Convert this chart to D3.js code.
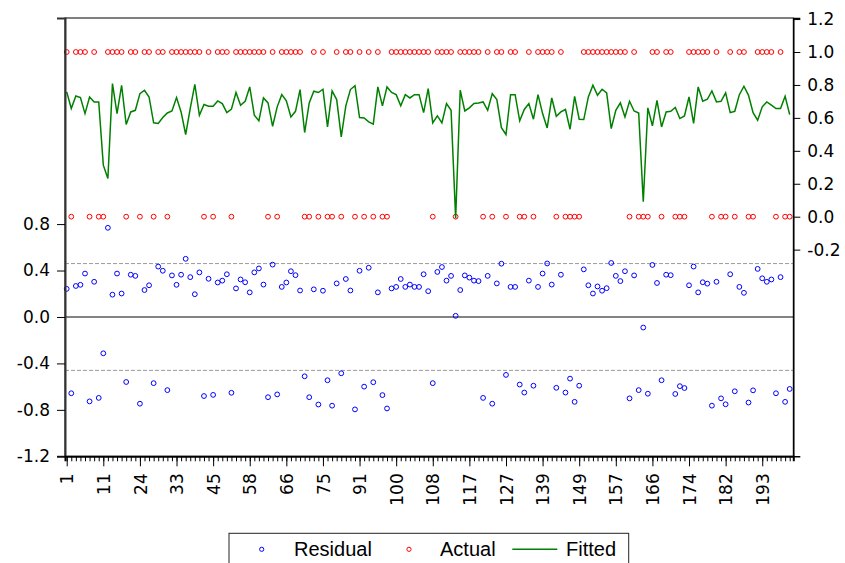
<!DOCTYPE html>
<html>
<head>
<meta charset="utf-8">
<script src="https://cdn.jsdelivr.net/npm/d3@7"></script>
<style>
  html, body { margin: 0; padding: 0; background: #fff; }
  svg { display: block; }
</style>
</head>
<body>
<svg id="chart" width="845" height="563"></svg>
<script>
// Fitted probabilities, one per observation (right axis)
const fitted = [
  0.758, 0.657, 0.733, 0.723, 0.626, 0.727, 0.697, 0.697, 0.313, 0.232,
  0.808, 0.626, 0.798, 0.560, 0.636, 0.646, 0.747, 0.768, 0.727, 0.570,
  0.566, 0.602, 0.630, 0.642, 0.723, 0.636, 0.499, 0.657, 0.804, 0.616,
  0.681, 0.671, 0.671, 0.703, 0.687, 0.632, 0.653, 0.754, 0.677, 0.701,
  0.788, 0.616, 0.582, 0.721, 0.691, 0.549, 0.667, 0.741, 0.703, 0.606,
  0.640, 0.772, 0.511, 0.691, 0.762, 0.754, 0.774, 0.545, 0.764, 0.711,
  0.485, 0.673, 0.772, 0.796, 0.602, 0.600, 0.576, 0.562, 0.788, 0.673,
  0.788, 0.754, 0.741, 0.673, 0.741, 0.721, 0.741, 0.741, 0.632, 0.778,
  0.570, 0.612, 0.570, 0.687, 0.646, -0.010, 0.768, 0.642, 0.661, 0.687,
  0.691, 0.697, 0.646, 0.747, 0.711, 0.541, 0.499, 0.741, 0.741, 0.582,
  0.651, 0.687, 0.592, 0.741, 0.626, 0.539, 0.721, 0.610, 0.636, 0.651,
  0.531, 0.731, 0.592, 0.590, 0.727, 0.798, 0.737, 0.774, 0.752, 0.535,
  0.646, 0.691, 0.606, 0.701, 0.642, 0.630, 0.091, 0.661, 0.552, 0.707,
  0.545, 0.636, 0.640, 0.663, 0.596, 0.612, 0.727, 0.566, 0.788, 0.701,
  0.713, 0.764, 0.697, 0.701, 0.752, 0.632, 0.640, 0.741, 0.792, 0.737,
  0.632, 0.586, 0.667, 0.697, 0.677, 0.657, 0.657, 0.731, 0.620
];

// Observed binary outcome (right axis)
const actual = [
  1,0,1,1,1,0,1,0,0,1,
  1,1,1,0,1,1,0,1,1,0,
  1,1,0,1,1,1,1,1,1,1,
  0,1,0,1,1,1,0,1,1,1,
  1,1,1,1,0,1,0,1,1,1,
  1,1,0,0,1,0,1,0,0,1,
  0,1,1,0,1,0,1,0,1,0,
  0,1,1,1,1,1,1,1,1,1,
  0,1,1,1,1,0,1,1,1,1,
  1,0,1,0,1,1,0,1,1,0,
  0,1,0,1,1,1,1,0,1,0,
  0,0,0,1,1,1,1,1,1,1,
  1,1,1,0,1,0,0,0,1,1,
  0,1,1,0,0,0,1,1,1,1,
  1,0,1,0,0,1,0,1,1,0,
  0,1,1,1,1,0,1,0,0
];

// Observation labels shown on the x axis (every 8th observation)
const tickLabels = ["1","11","24","33","45","58","66","75","91","100",
                    "108","117","127","139","149","157","166","174","182","193"];
const tickEvery = 8;

// Axis tick values
const residTicks = [-1.2, -0.8, -0.4, 0.0, 0.4, 0.8];
const afTicks = [-0.2, 0.0, 0.2, 0.4, 0.6, 0.8, 1.0, 1.2];

// Standard error band drawn around the zero residual line
const seBand = 0.46;

const seriesNames = ["Residual", "Actual", "Fitted"];
const seriesColors = ["#0000ff", "#ff0000", "#008000"];

// Residual = actual - fitted
const residual = actual.map((a, i) => a - fitted[i]);
const N = fitted.length;

const plot = { left: 65, right: 793.3, top: 18, bottom: 456.3 };
const svg = d3.select("#chart");
const numFont = "'DejaVu Sans', Verdana, sans-serif";
const textFont = "'Liberation Sans', Arial, Helvetica, sans-serif";
const markerR = 2.4;

const x = d3.scalePoint()
  .domain(d3.range(N))
  .range([plot.left, plot.right])
  .padding(0.58)
  .align(0.32);

const yRes = d3.scaleLinear().domain([-1.2, 2.575]).range([plot.bottom, plot.top]);
const yAF = d3.scaleLinear().domain([-1.455, 1.2065]).range([plot.bottom, plot.top]);

// Reference lines in the residual panel
svg.append("g").selectAll("line.se")
  .data([seBand, -seBand])
  .join("line")
  .attr("x1", plot.left).attr("x2", plot.right)
  .attr("y1", d => yRes(d)).attr("y2", d => yRes(d))
  .attr("stroke", "#9a9a9a").attr("stroke-width", 1)
  .attr("stroke-dasharray", "4,2");

svg.append("line")
  .attr("x1", plot.left).attr("x2", plot.right)
  .attr("y1", yRes(0)).attr("y2", yRes(0))
  .attr("stroke", "#5a5a5a").attr("stroke-width", 1.5);

// Residual markers
svg.append("g").selectAll("circle")
  .data(residual)
  .join("circle")
  .attr("cx", (d, i) => x(i))
  .attr("cy", d => yRes(d))
  .attr("r", markerR)
  .attr("fill", "none")
  .attr("stroke", seriesColors[0])
  .attr("stroke-width", 1);

// Actual markers
svg.append("g").selectAll("circle")
  .data(actual)
  .join("circle")
  .attr("cx", (d, i) => x(i))
  .attr("cy", d => yAF(d))
  .attr("r", markerR)
  .attr("fill", "none")
  .attr("stroke", seriesColors[1])
  .attr("stroke-width", 1);

// Fitted line
svg.append("path")
  .datum(fitted)
  .attr("fill", "none")
  .attr("stroke", seriesColors[2])
  .attr("stroke-width", 1.5)
  .attr("stroke-linejoin", "miter")
  .attr("d", d3.line().x((d, i) => x(i)).y(d => yAF(d)));

// Frame
svg.append("rect")
  .attr("x", plot.left).attr("y", plot.top)
  .attr("width", plot.right - plot.left).attr("height", plot.bottom - plot.top)
  .attr("fill", "none").attr("stroke", "#000").attr("stroke-width", 1);

const fmt = v => v.toFixed(1);

// Left axis: residuals
const leftAxis = svg.append("g")
  .attr("transform", `translate(${plot.left},0)`)
  .call(d3.axisLeft(yRes).tickValues(residTicks).tickFormat(fmt).tickSize(8).tickPadding(7));
leftAxis.select(".domain").attr("stroke", "#333").attr("stroke-width", 2);
leftAxis.selectAll("text").attr("font-family", numFont).attr("font-size", 17).attr("fill", "#000");

// Right axis: actual / fitted
const rightAxis = svg.append("g")
  .attr("transform", `translate(${plot.right},0)`)
  .call(d3.axisRight(yAF).tickValues(afTicks).tickFormat(fmt).tickSize(7).tickPadding(7));
rightAxis.select(".domain").attr("stroke", "#000").attr("stroke-width", 1.5);
rightAxis.selectAll("text").attr("font-family", numFont).attr("font-size", 17).attr("fill", "#000");

// Bottom axis: a short tick for each observation...
const minorAxis = svg.append("g")
  .attr("transform", `translate(0,${plot.bottom})`)
  .call(d3.axisBottom(x).tickValues(d3.range(N)).tickFormat("").tickSize(5));
minorAxis.select(".domain").attr("stroke", "#000").attr("stroke-width", 2);

// ...and a longer, labelled tick every 8th observation
const majorIdx = tickLabels.map((_, i) => i * tickEvery);
const majorAxis = svg.append("g")
  .attr("transform", `translate(0,${plot.bottom})`)
  .call(d3.axisBottom(x).tickValues(majorIdx)
    .tickFormat((d, i) => tickLabels[i]).tickSize(10));
majorAxis.select(".domain").remove();
majorAxis.selectAll("text")
  .attr("font-family", numFont).attr("font-size", 17).attr("fill", "#000")
  .attr("transform", "rotate(-90)")
  .attr("text-anchor", "end")
  .attr("x", -17).attr("y", 0).attr("dy", "0.36em");

// Legend
const legend = svg.append("g");
legend.append("rect")
  .attr("x", 229).attr("y", 533.3).attr("width", 399.7).attr("height", 40)
  .attr("fill", "#fff").attr("stroke", "#222").attr("stroke-width", 1);

const legendY = 549.3;
const legendItems = [
  { name: seriesNames[0], color: seriesColors[0], type: "circle", mx: 261.7, tx: 294 },
  { name: seriesNames[1], color: seriesColors[1], type: "circle", mx: 409, tx: 440 },
  { name: seriesNames[2], color: seriesColors[2], type: "line", mx: 534.8, tx: 566 }
];
legendItems.forEach(it => {
  if (it.type === "circle") {
    legend.append("circle")
      .attr("cx", it.mx).attr("cy", legendY).attr("r", 2.1)
      .attr("fill", "none").attr("stroke", it.color).attr("stroke-width", 1);
  } else {
    legend.append("line")
      .attr("x1", it.mx - 22.5).attr("x2", it.mx + 22.5)
      .attr("y1", legendY).attr("y2", legendY)
      .attr("stroke", it.color).attr("stroke-width", 1.5);
  }
  legend.append("text")
    .attr("x", it.tx).attr("y", 555.5)
    .attr("font-family", textFont).attr("font-size", 20).attr("fill", "#000")
    .text(it.name);
});
</script>
</body>
</html>
